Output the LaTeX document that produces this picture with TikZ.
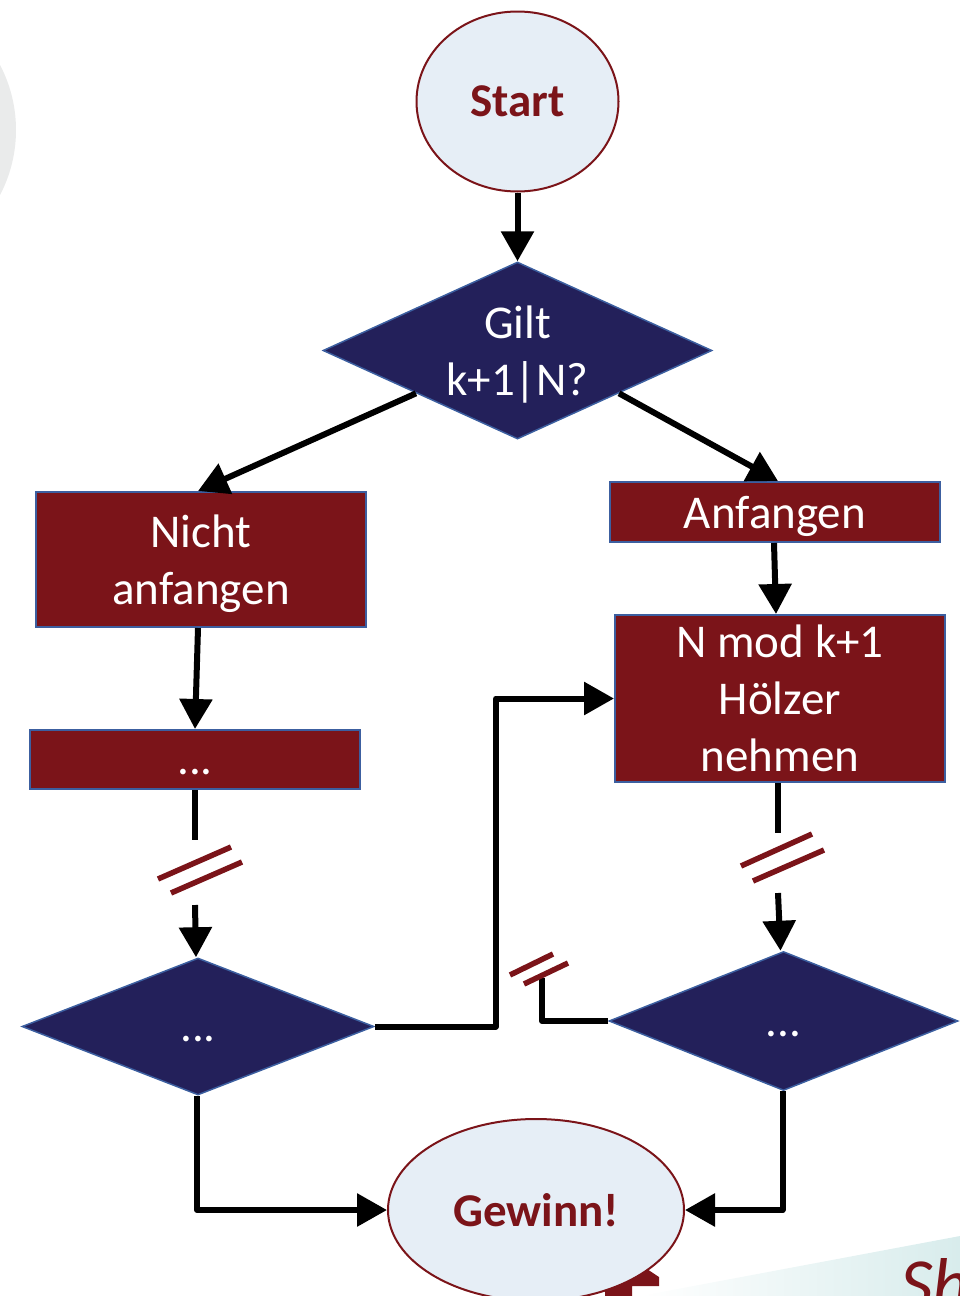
\documentclass[tikz,border=0pt]{standalone}
\usepackage{fontspec}
\setmainfont{Carlito}
\usetikzlibrary{arrows.meta,shapes.geometric,calc}
\definecolor{dred}{RGB}{123,20,25}
\definecolor{navy}{RGB}{35,32,90}
\definecolor{bblue}{RGB}{60,95,160}
\definecolor{lblue}{RGB}{230,238,246}
\definecolor{lgray}{RGB}{234,235,235}
\definecolor{teal1}{RGB}{216,236,236}
\begin{document}
\begin{tikzpicture}[x=1pt,y=-1pt,
  txt/.style={font=\fontsize{47}{57}\selectfont, align=center, text depth=0pt},
  term/.style={ellipse, draw=dred, line width=2pt, fill=lblue, inner sep=0pt, text=dred, font=\fontsize{47}{57}\selectfont\bfseries},
  procbox/.style={rectangle, draw=bblue, line width=2pt, fill=dred, text=white, inner sep=0pt, txt},
  decide/.style={diamond, shape aspect=2.2, draw=bblue, line width=1.5pt, fill=navy, text=white, inner sep=0pt, txt},
  conn/.style={line width=6pt, line join=round, draw=black},
  arr/.style={conn, -{Triangle[length=30pt,width=32pt]}},
  brk/.style={line width=5.5pt, draw=dred}]
\useasboundingbox (0,0) rectangle (960,1296);
\clip (0,0) rectangle (960,1296);
% background remnants
\fill[lgray] (-124,130) circle (140pt);
\shade[left color=white, right color=teal1] (640,1296) -- (960,1236) -- (960,1296) -- cycle;
\node[anchor=base west, text=dred, font=\fontsize{72}{72}\selectfont\itshape, inner sep=0pt] (sh) at (900,1308) {Sh};
\fill[dred] (605,1296) -- (605,1268) -- (647,1269) -- (659,1277) -- (659,1286) -- (632,1286) -- (632,1296) -- cycle;
% nodes
\node[term, minimum width=202pt, minimum height=180pt] (start) at (517.5,101.5) {\raisebox{-2pt}{Start}};
\node[decide, minimum width=389pt, minimum height=177pt] (d1) at (517.5,350.5) {Gilt\\k+1|N?};
\node[procbox, minimum width=330pt, minimum height=135pt] (nicht) at (201,559.5) {Nicht\\anfangen};
\node[procbox, minimum width=330pt, minimum height=60pt] (anf) at (775,512) {Anfangen};
\node[procbox, minimum width=330pt, minimum height=167pt] (nmod) at (780,698.5) {N mod k+1\\Hölzer\\nehmen};
\node[procbox, minimum width=330pt, minimum height=59pt] (dots) at (195,759.5) {\vphantom{Ag}...};
\node[decide, minimum width=352pt, minimum height=137pt] (d2) at (198,1026.5) {\vphantom{Ag}...};
\node[decide, minimum width=349pt, minimum height=139pt] (d3) at (783.5,1021) {\vphantom{Ag}...};
\node[term, minimum width=296pt, minimum height=182pt] (gew) at (536,1210) {\raisebox{-2pt}{Gewinn!}};
% connectors
\draw[arr] (start.south) -- (d1.north);
\draw[arr] ($(d1.west)!0.48!(d1.south)$) -- ([xshift=-3pt]nicht.north);
\draw[arr] ($(d1.east)!0.48!(d1.south)$) -- ([xshift=3pt]anf.north);
\draw[arr] ([xshift=-1pt]anf.south) -- ([xshift=-4pt]nmod.north);
\draw[arr] ([xshift=-3pt]nicht.south) -- (dots.north);
\coordinate (lb1) at (195,840);
\coordinate (lb2) at (195,905);
\draw[conn] (dots.south) -- (lb1);
\draw[arr] (lb2) -- ([xshift=-2pt]d2.north);
\draw[brk] (158,879) -- (231,847);
\draw[brk] (171,893) -- (242,862);
\coordinate (rb1) at (778,833);
\coordinate (rb2) at (778,893);
\draw[conn] ([xshift=-2pt]nmod.south) -- (rb1);
\draw[arr] (rb2) -- ([xshift=-3pt]d3.north);
\draw[brk] (741,866) -- (812,834);
\draw[brk] (753,881) -- (824,850);
\draw[arr] (d2.east) -- ++(121,0) |- (nmod.west);
\coordinate (mb) at (542,978);
\draw[conn] (d3.west) -| (mb);
\draw[brk] (510,975) -- (553,954);
\draw[brk] (524,984) -- (568,963);
\draw[arr] ([xshift=-1pt]d2.south) |- (gew.west);
\draw[arr] ([xshift=-1pt]d3.south) |- (gew.east);
\end{tikzpicture}
\end{document}
